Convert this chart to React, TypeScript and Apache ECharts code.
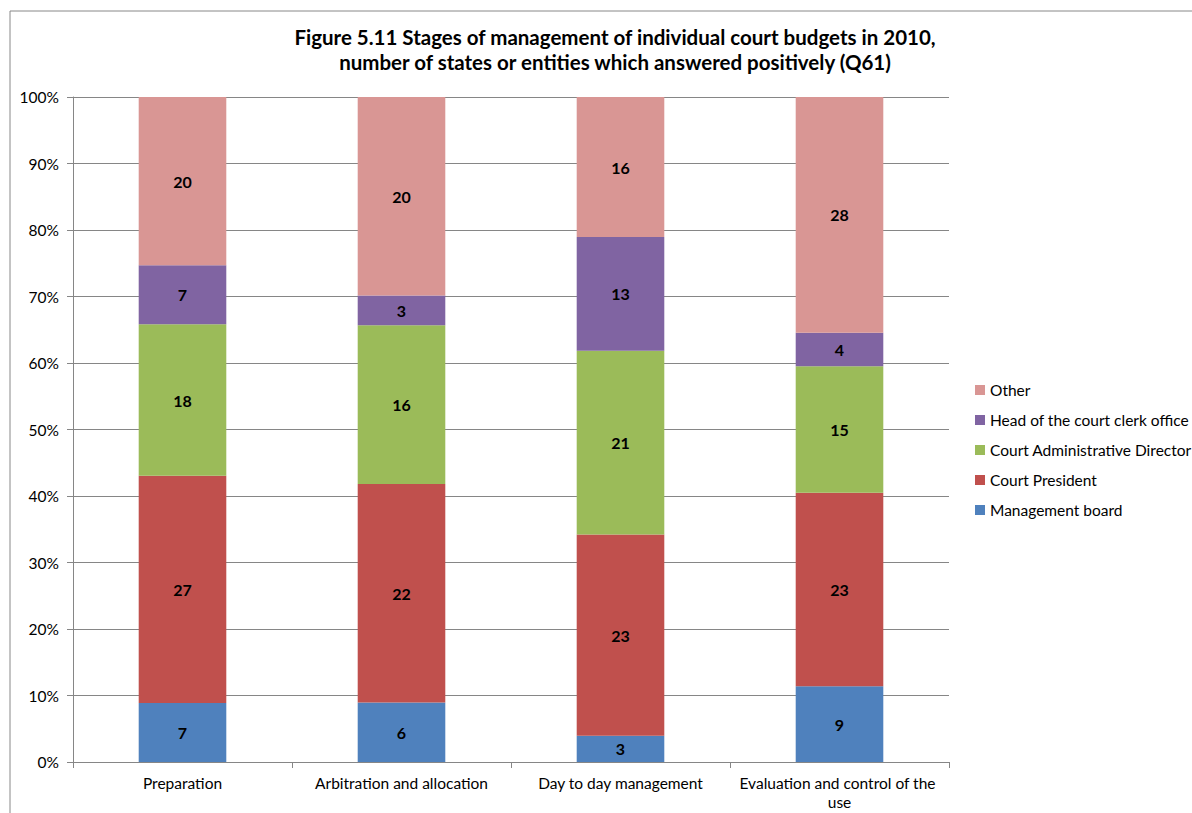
import React, { useEffect, useRef } from "react";
import * as echarts from "echarts";

const categories = [
  "Preparation",
  "Arbitration and allocation",
  "Day to day management",
  "Evaluation and control of the use",
];
const seriesNames = [
  "Management board",
  "Court President",
  "Court Administrative Director",
  "Head of the court clerk office",
  "Other",
];
const managementBoard = [7, 6, 3, 9];
const courtPresident = [27, 22, 23, 23];
const courtAdminDirector = [18, 16, 21, 15];
const headClerkOffice = [7, 3, 13, 4];
const other = [20, 20, 16, 28];
const seriesValues = [managementBoard, courtPresident, courtAdminDirector, headClerkOffice, other];
const colors = ["#4F81BD", "#C0504D", "#9BBB59", "#8064A2", "#D99694"];
const yTicks = [0, 10, 20, 30, 40, 50, 60, 70, 80, 90, 100];

const FONT = "Lato, 'Open Sans', sans-serif";

export default function App() {
  const ref = useRef<HTMLDivElement>(null);
  useEffect(() => {
    if (!ref.current) return;
    const chart = echarts.init(ref.current, null, { renderer: "svg" });
    const totals = categories.map((_, i) =>
      seriesValues.reduce((s, arr) => s + arr[i], 0)
    );
    const series = seriesNames.map((name, k) => ({
      name,
      type: "bar",
      stack: "total",
      barWidth: "40%",
      itemStyle: { color: colors[k] },
      label: {
        show: true,
        position: "inside",
        color: "#000",
        fontWeight: "bold",
        fontSize: 16,
        fontFamily: FONT,
        formatter: (p: any) => String(seriesValues[k][p.dataIndex]),
      },
      data: seriesValues[k].map((v, i) => (v / totals[i]) * 100),
    }));
    chart.setOption({
      animation: false,
      backgroundColor: "#fff",
      color: colors,
      title: {
        text:
          "Figure 5.11 Stages of management of individual court budgets in 2010,\nnumber of states or entities which answered positively (Q61)",
        left: 615,
        textAlign: "center",
        top: 24,
        padding: 0,
        textStyle: {
          fontFamily: FONT,
          fontWeight: "bold",
          fontSize: 20.5,
          lineHeight: 25,
          color: "#000",
        },
      },
      graphic: [
        {
          type: "rect",
          shape: { x: 10, y: 11, width: 1300, height: 900 },
          style: { fill: "none", stroke: "#888", lineWidth: 1 },
          silent: true,
        },
      ],
      legend: {
        orient: "vertical",
        left: 970,
        top: 377,
        itemWidth: 10,
        itemHeight: 10,
        itemGap: 14,
        icon: "rect",
        data: [...seriesNames].reverse(),
        textStyle: {
          fontFamily: FONT,
          fontSize: 15.5,
          lineHeight: 16,
          color: "#000",
        },
      },
      grid: { left: 73, right: 243, top: 97, bottom: 51, containLabel: false },
      xAxis: {
        type: "category",
        data: categories,
        axisLine: { lineStyle: { color: "#868686" } },
        axisTick: { show: true, length: 6, lineStyle: { color: "#868686" } },
        axisLabel: {
          fontFamily: FONT,
          fontSize: 15.5,
          color: "#000",
          margin: 11,
          lineHeight: 19,
          width: 205,
          overflow: "break",
          interval: 0,
        },
      },
      yAxis: {
        type: "value",
        min: 0,
        max: 100,
        interval: 10,
        axisLine: { show: true, lineStyle: { color: "#868686" } },
        axisTick: { show: true, length: 6, lineStyle: { color: "#868686" } },
        splitLine: { lineStyle: { color: "#868686" } },
        axisLabel: {
          fontFamily: FONT,
          fontSize: 15.5,
          color: "#000",
          margin: 14,
          formatter: (v: number) => (yTicks.includes(v) ? v + "%" : ""),
        },
      },
      series,
    });
    return () => chart.dispose();
  }, []);
  return (
    <div
      ref={ref}
      style={{ position: "absolute", left: 0, top: 0, width: 1192, height: 813 }}
    />
  );
}
